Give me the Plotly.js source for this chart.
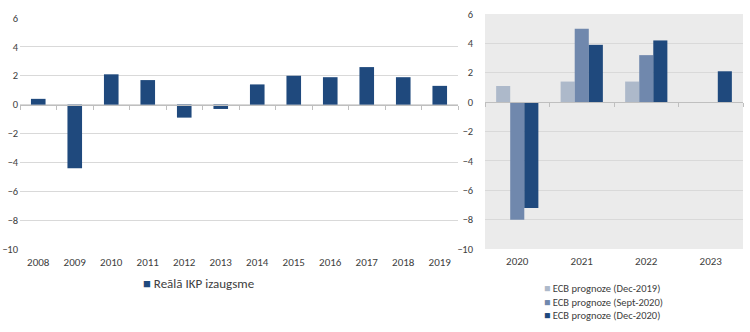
<!DOCTYPE html>
<html>
<head>
<meta charset="utf-8">
<script src="https://cdn.plot.ly/plotly-3.0.1.min.js"></script>
<style>html,body{margin:0;padding:0;background:#fff;}#chart{width:750px;height:332px;}</style>
</head>
<body>
<div id="chart"></div>
<script>
// ---- data ----
const years = ['2008','2009','2010','2011','2012','2013','2014','2015','2016','2017','2018','2019'];
const gdpGrowth = [0.4, -4.4, 2.1, 1.7, -0.9, -0.3, 1.4, 2.0, 1.9, 2.6, 1.9, 1.3];
const gdpName = 'Reālā IKP izaugsme';

const forecastYears = ['2020','2021','2022','2023'];
const ecbDec2019 = [1.1, 1.4, 1.4, null];
const ecbSep2020 = [-8.0, 5.0, 3.2, null];
const ecbDec2020 = [-7.2, 3.9, 4.2, 2.1];
const forecastNames = ['ECB prognoze (Dec-2019)', 'ECB prognoze (Sept-2020)', 'ECB prognoze (Dec-2020)'];

const yTicks = [-10, -8, -6, -4, -2, 0, 2, 4, 6];

// ---- style ----
const W = 750, H = 332;
const FONT = 'Carlito, Liberation Sans Narrow, Liberation Sans, Arial, sans-serif';
const TXT = '#404040';
const colDark = '#1f497d', colMid = '#7088ad', colLight = '#adb9ca';
const yMin = -10, yMax = 6;
const dom1x = [20 / W, 458 / W], dom1y = [1 - 249 / H, 1 - 18 / H];
const dom2x = [485 / W, 743 / W], dom2y = [1 - 249 / H, 1 - 14 / H];
function zeroPos(d) { return d[0] + (0 - yMin) / (yMax - yMin) * (d[1] - d[0]); }
function zeroPx(d) { return (1 - zeroPos(d)) * H; }
const labelPx = 262.5;

const traces = [
  { type: 'bar', x: years, y: gdpGrowth, name: gdpName, xaxis: 'x', yaxis: 'y',
    marker: { color: colDark }, width: 0.4, showlegend: false },
  { type: 'bar', x: forecastYears, y: ecbDec2019, name: forecastNames[0], xaxis: 'x2', yaxis: 'y2',
    marker: { color: colLight }, showlegend: false },
  { type: 'bar', x: forecastYears, y: ecbSep2020, name: forecastNames[1], xaxis: 'x2', yaxis: 'y2',
    marker: { color: colMid }, showlegend: false },
  { type: 'bar', x: forecastYears, y: ecbDec2020, name: forecastNames[2], xaxis: 'x2', yaxis: 'y2',
    marker: { color: colDark }, showlegend: false }
];

function xAx(dom, ydom) {
  return {
    domain: dom, type: 'category', anchor: 'free', position: zeroPos(ydom),
    color: TXT,
    showline: true, linecolor: '#bfbfbf', linewidth: 1,
    ticks: 'outside', tickson: 'boundaries', ticklen: 4, tickcolor: '#bfbfbf', tickwidth: 1,
    showgrid: false, zeroline: false,
    ticklabelstandoff: Math.round(labelPx - zeroPx(ydom) - 4 - 7),
    tickfont: { family: FONT, size: 11, color: TXT }, fixedrange: true
  };
}
function yAx(dom, anchor, standoff) {
  return {
    domain: dom, anchor: anchor, range: [yMin, yMax], tickvals: yTicks,
    color: TXT,
    showgrid: true, gridcolor: '#d9d9d9', gridwidth: 1, zeroline: false, showline: false,
    ticks: '', ticklabelstandoff: standoff,
    tickfont: { family: FONT, size: 10.5, color: TXT }, fixedrange: true
  };
}

function sq(color) { return '<span style="color:' + color + '">■</span> '; }
const fColors = [colLight, colMid, colDark];
const annotations = [
  { xref: 'paper', yref: 'paper', x: 141 / W, y: 1 - 283 / H, xanchor: 'left', yanchor: 'middle',
    showarrow: false, align: 'left', text: sq(colDark) + gdpName,
    font: { family: FONT, size: 13, color: TXT } },
  { xref: 'paper', yref: 'paper', x: 542 / W, y: 1 - 301.7 / H, xanchor: 'left', yanchor: 'middle',
    showarrow: false, align: 'left',
    text: forecastNames.map(function (n, i) { return sq(fColors[i]) + n; }).join('<br>'),
    font: { family: FONT, size: 10.5, color: TXT } }
];

const layout = {
  width: W, height: H, margin: { l: 0, r: 0, t: 0, b: 0 },
  paper_bgcolor: '#ffffff', plot_bgcolor: 'rgba(0,0,0,0)',
  barmode: 'group', bargap: 0.345, bargroupgap: 0,
  showlegend: false,
  xaxis: xAx(dom1x, dom1y), yaxis: yAx(dom1y, 'x', 1),
  xaxis2: xAx(dom2x, dom2y), yaxis2: yAx(dom2y, 'x2', 11),
  shapes: [{ type: 'rect', xref: 'x2 domain', yref: 'y2 domain', x0: 0, x1: 1, y0: 0, y1: 1,
    fillcolor: '#ebebeb', line: { width: 0 }, layer: 'below' }],
  annotations: annotations,
  font: { family: FONT, color: TXT }
};

Plotly.newPlot('chart', traces, layout, { displayModeBar: false, staticPlot: true });
</script>
</body>
</html>
